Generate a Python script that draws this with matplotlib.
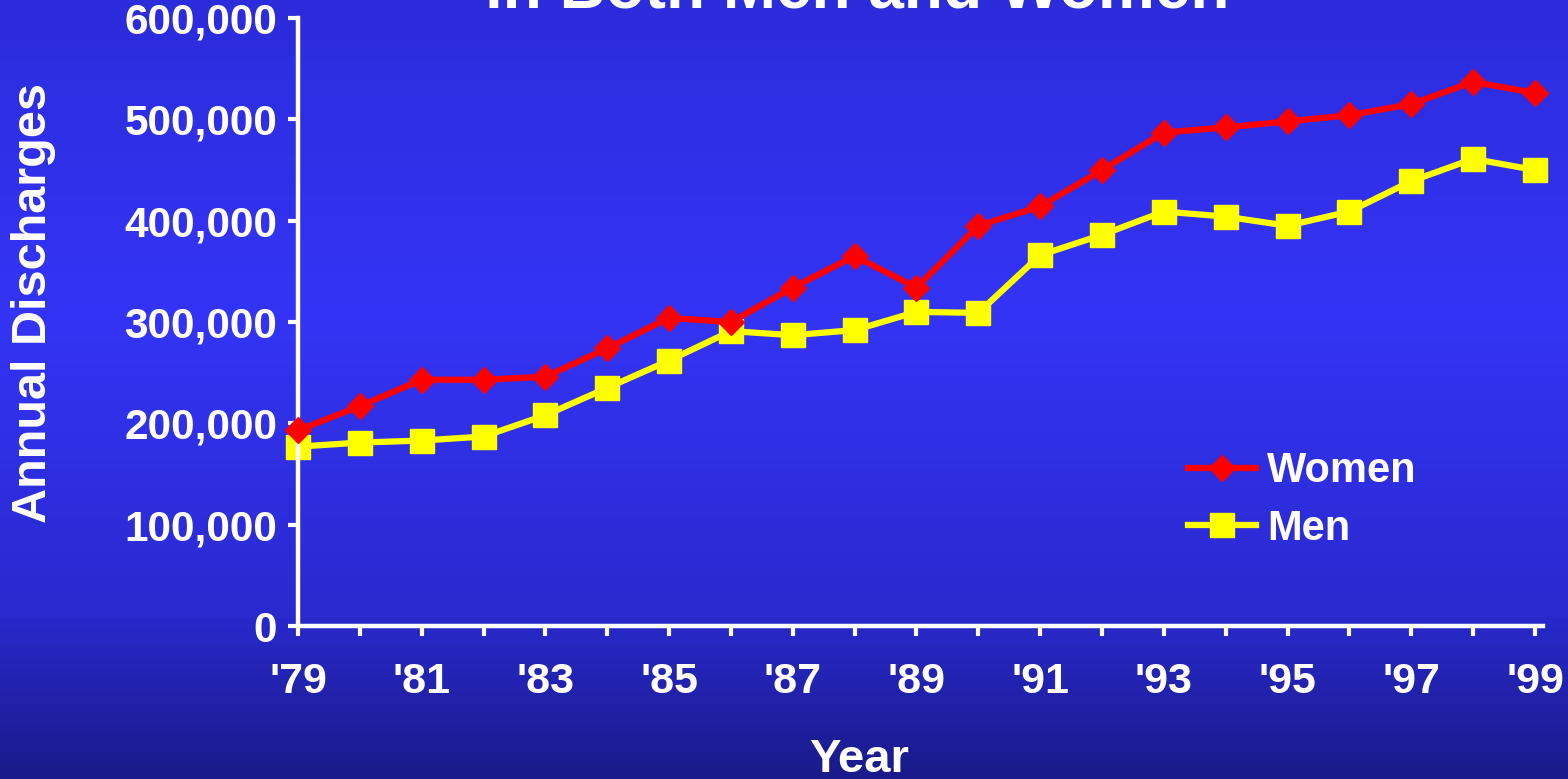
import numpy as np
import matplotlib
matplotlib.use("Agg")
import matplotlib.pyplot as plt
from matplotlib.colors import LinearSegmentedColormap

plt.rcParams['font.family'] = ['Liberation Sans', 'DejaVu Sans']
plt.rcParams['font.weight'] = 'bold'

# Annual hospital discharges by sex, 1979-1999
years = list(range(1979, 2000))
women = [193000, 217000, 243000, 243000, 246000, 274000, 304000, 300000,
         334000, 365000, 334000, 395000, 414000, 450000, 487000, 492000,
         498000, 504000, 515000, 537000, 526000]
men = [177000, 181000, 183000, 187000, 208000, 235000, 262000, 291000,
       287000, 292000, 310000, 309000, 366000, 386000, 409000, 404000,
       395000, 409000, 439000, 461000, 450000]
year_labels = ["'%02d" % (y % 100) if y % 2 == 1 else "" for y in years]
y_ticks = [0, 100000, 200000, 300000, 400000, 500000, 600000]

W, H = 1568, 779
fig = plt.figure(figsize=(W / 100, H / 100), dpi=100)

# background: blue vertical gradient, brightest a bit above the middle
bg = fig.add_axes([0, 0, 1, 1], zorder=-10)
bg_cmap = LinearSegmentedColormap.from_list(
    "bg", [(0.0, "#2c2cdc"), (0.4, "#3434f6"), (0.78, "#2a2ad0"), (1.0, "#1a1a8a")])
bg.imshow(np.linspace(0, 1, 256).reshape(-1, 1), aspect="auto", cmap=bg_cmap,
          extent=[0, 1, 0, 1], origin="upper")
bg.axis("off")

ax = fig.add_axes([298 / W, 1 - 626 / H, (1543 - 298) / W, (626 - 18) / H])
ax.set_facecolor("none")

ax.plot(years, women, color="#ff0000", lw=4.5, marker="D", ms=13.5,
        label="Women", zorder=3, clip_on=False)
ax.plot(years, men, color="#ffff00", lw=4.5, marker="s", ms=17.5,
        label="Men", zorder=2, clip_on=False)

ax.set_xlim(1979, 1999.13)
ax.set_ylim(0, 600000)
ax.set_xticks(years)
ax.set_xticklabels(year_labels)
ax.set_yticks(y_ticks)
ax.set_yticklabels(["{:,}".format(v) for v in y_ticks])

for side in ("top", "right"):
    ax.spines[side].set_visible(False)
for side in ("left", "bottom"):
    ax.spines[side].set_color("white")
    ax.spines[side].set_linewidth(3.2)

ax.tick_params(axis="both", colors="white", width=3, length=7, direction="out")
ax.tick_params(axis="x", labelsize=31, pad=19)
ax.tick_params(axis="y", labelsize=30.5, pad=8)

leg = ax.legend(loc="center left", bbox_to_anchor=(1188 / W, 1 - 500 / H),
                bbox_transform=fig.transFigure, frameon=False, fontsize=30,
                handlelength=1.63, handletextpad=0.26, labelspacing=0.42,
                borderpad=0, borderaxespad=0, numpoints=1)
for t in leg.get_texts():
    t.set_color("white")

fig.text(34 / W, 1 - 303 / H, "Annual Discharges", rotation=90, color="white",
         fontsize=35, ha="center", va="center")
fig.text(859 / W, 1 - 772 / H, "Year", color="white", fontsize=34,
         ha="center", va="baseline")
fig.text(857 / W, 1 - 7 / H, "in Both Men and Women", color="white",
         fontsize=46, ha="center", va="baseline")

plt.savefig("out.png", dpi=100)
plt.close()
